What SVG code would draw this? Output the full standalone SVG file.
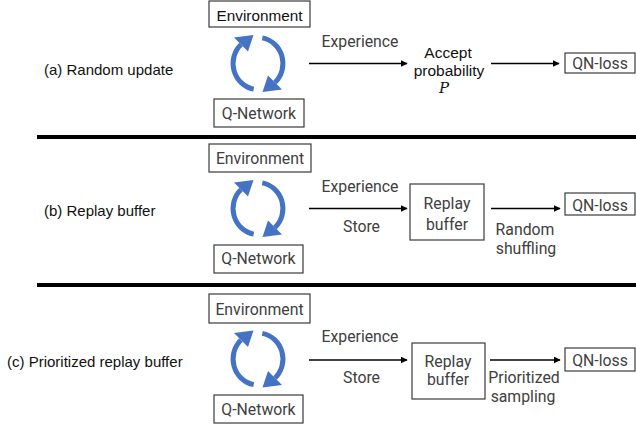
<svg xmlns="http://www.w3.org/2000/svg" width="636" height="426" viewBox="0 0 636 426">
  <style>
    .box { fill: #ffffff; stroke: #3a3a3a; stroke-width: 1.2; }
    .sans { font-family: "Liberation Sans", Arial, sans-serif; fill: #111111; }
    .goth { font-family: Roboto, "Noto Sans", sans-serif; fill: #404040; font-size: 15.8px; }
    .mid { text-anchor: middle; }
    .conn { stroke: #000000; stroke-width: 1.3; fill: none; marker-end: url(#head); }
    .sep { stroke: #000000; stroke-width: 4; }
    .cycle { stroke: #4472C4; stroke-width: 5; fill: none; }
    .cyclehead { fill: #4472C4; }
  </style>
  <defs>
    <marker id="head" viewBox="0 0 10 10" refX="9" refY="5" markerWidth="7" markerHeight="7" markerUnits="userSpaceOnUse" orient="auto">
      <path d="M0,0 L10,5 L0,10 Z" fill="#000000"/>
    </marker>
    <!-- half of the update cycle: one arc with its arrowhead -->
    <g id="halfcycle">
      <path class="cycle" d="M4.3,-25.6 A25,26 0 0 1 17,19"/>
      <path class="cyclehead" d="M24,26 L10,12 L4.5,28.5 Z"/>
    </g>
    <g id="cycle">
      <use href="#halfcycle"/>
      <use href="#halfcycle" transform="rotate(180)"/>
    </g>
  </defs>

  <!-- section separators -->
  <line class="sep" x1="37" y1="137" x2="636" y2="137"/>
  <line class="sep" x1="37" y1="285" x2="636" y2="285"/>

  <!-- (a) random update -->
  <text class="sans" x="44" y="75" font-size="15">(a) Random update</text>
  <g id="env-a">
    <rect class="box" x="209" y="1" width="101" height="26"/>
    <text class="sans mid" x="259.5" y="20.5" font-size="15.3">Environment</text>
  </g>
  <g id="cycle-a"><use href="#cycle" transform="translate(258,63.5)"/></g>
  <g id="qn-a">
    <rect class="box" x="214" y="99" width="90" height="28"/>
    <text class="goth mid" x="259" y="119">Q-Network</text>
  </g>
  <g id="accept-a">
    <text class="sans mid" x="448" y="58" font-size="15.5">Accept</text>
    <text class="sans mid" x="449" y="76" font-size="15.5">probability</text>
    <text class="mid" x="444" y="93" font-size="15" font-style="italic" font-family="'DejaVu Serif', 'Liberation Serif', serif" fill="#111111">P</text>
  </g>
  <g id="loss-a">
    <rect class="box" x="565" y="53" width="70" height="20"/>
    <text class="goth mid" x="600" y="68.5">QN-loss</text>
  </g>

  <!-- (b) replay buffer -->
  <text class="sans" x="44" y="216" font-size="15">(b) Replay buffer</text>
  <g id="env-b">
    <rect class="box" x="209" y="144" width="102" height="28"/>
    <text class="goth mid" x="260" y="163.5">Environment</text>
  </g>
  <g id="cycle-b"><use href="#cycle" transform="translate(258,208.5)"/></g>
  <g id="qn-b">
    <rect class="box" x="214" y="245" width="89" height="28"/>
    <text class="goth mid" x="258.5" y="264">Q-Network</text>
  </g>
  <g id="buffer-b">
    <rect class="box" x="410" y="184" width="74" height="56"/>
    <text class="goth mid" x="447" y="208.5">Replay</text>
    <text class="goth mid" x="447" y="230">buffer</text>
  </g>
  <g id="loss-b">
    <rect class="box" x="565" y="193" width="70" height="22"/>
    <text class="goth mid" x="600" y="210.5">QN-loss</text>
  </g>

  <!-- (c) prioritized replay buffer -->
  <text class="sans" x="7" y="366.5" font-size="15">(c) Prioritized replay buffer</text>
  <g id="env-c">
    <rect class="box" x="209" y="294" width="101" height="29"/>
    <text class="goth mid" x="259.5" y="315">Environment</text>
  </g>
  <g id="cycle-c"><use href="#cycle" transform="translate(258,359)"/></g>
  <g id="qn-c">
    <rect class="box" x="214" y="395" width="89" height="28"/>
    <text class="goth mid" x="258.5" y="415">Q-Network</text>
  </g>
  <g id="buffer-c">
    <rect class="box" x="412" y="343" width="73" height="56"/>
    <text class="goth mid" x="448" y="366.5">Replay</text>
    <text class="goth mid" x="448" y="385">buffer</text>
  </g>
  <g id="loss-c">
    <rect class="box" x="565" y="348" width="70" height="23"/>
    <text class="goth mid" x="600" y="365.5">QN-loss</text>
  </g>

  <!-- connectors and their labels -->
  <g id="connectors">
    <line class="conn" x1="309" y1="63.5" x2="407" y2="63.5"/>
    <line class="conn" x1="491" y1="63.5" x2="559" y2="63.5"/>
    <line class="conn" x1="309" y1="208.5" x2="407" y2="208.5"/>
    <line class="conn" x1="491" y1="208.5" x2="560" y2="208.5"/>
    <line class="conn" x1="309" y1="360" x2="407" y2="360"/>
    <line class="conn" x1="490" y1="360" x2="560" y2="360"/>
    <text class="goth mid" x="360" y="46.7">Experience</text>
    <text class="goth mid" x="360" y="191.7">Experience</text>
    <text class="goth mid" x="361.5" y="231.7">Store</text>
    <text class="goth mid" x="525" y="235">Random</text>
    <text class="goth mid" x="526" y="253.7">shuffling</text>
    <text class="goth mid" x="360" y="342">Experience</text>
    <text class="goth mid" x="361.5" y="383.3">Store</text>
    <text class="goth mid" x="524" y="382.5">Prioritized</text>
    <text class="goth mid" x="523" y="401.5">sampling</text>
  </g>
</svg>
